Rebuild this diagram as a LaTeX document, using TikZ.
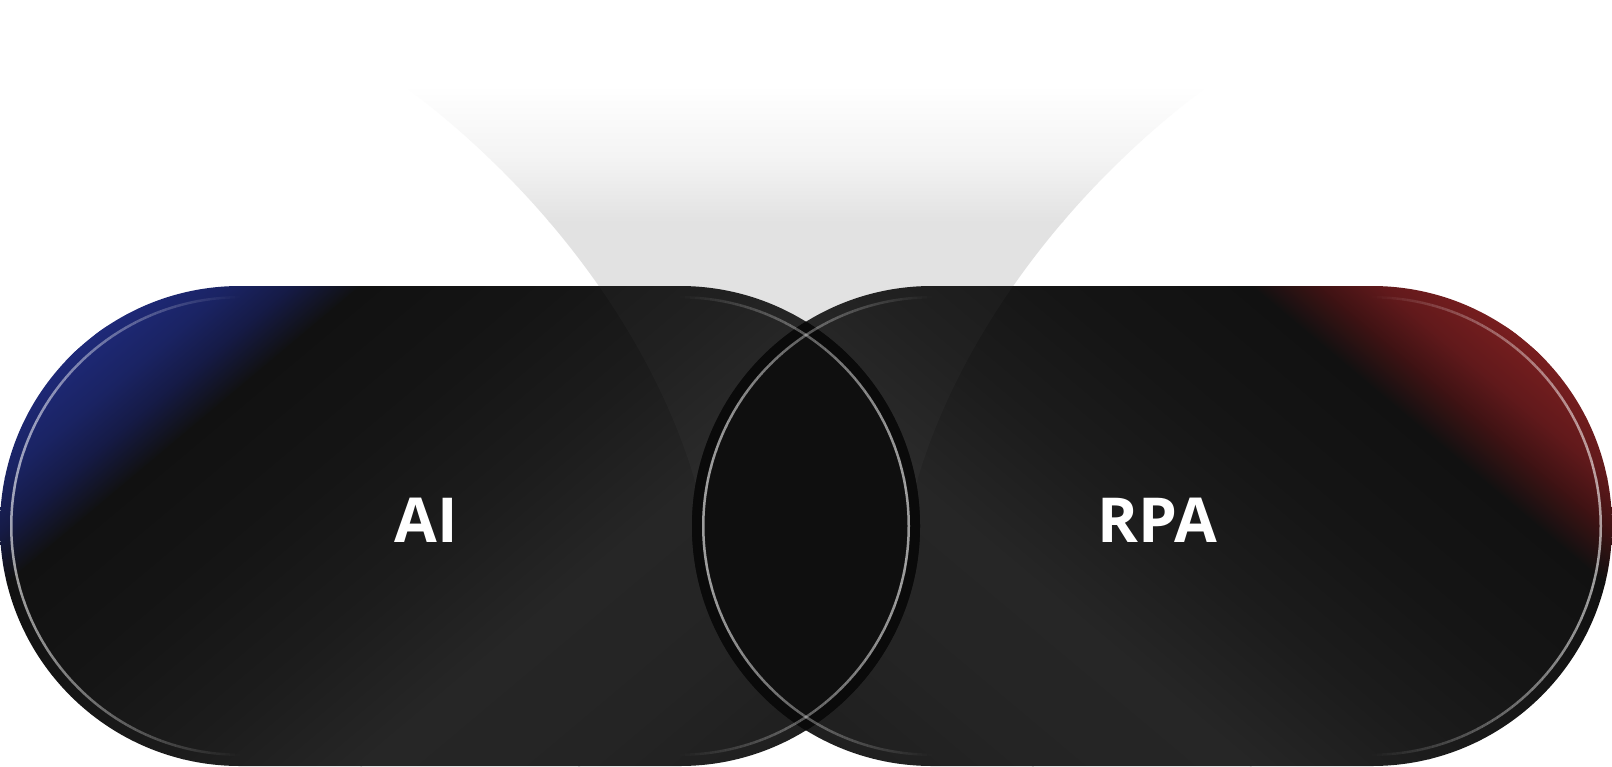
\documentclass[tikz,border=0pt]{standalone}
\usepackage{fontspec}
\setmainfont{Open Sans}
\definecolor{bl0}{HTML}{1E2978}
\definecolor{bl1}{HTML}{1A2362}
\definecolor{bl2}{HTML}{151A44}
\definecolor{rd0}{HTML}{781E1F}
\definecolor{rd1}{HTML}{60191B}
\definecolor{rd2}{HTML}{3D1213}
\definecolor{d11}{HTML}{111111}
\definecolor{d15}{HTML}{151515}
\definecolor{d1c}{HTML}{1C1C1C}
\definecolor{d26}{HTML}{262626}
\definecolor{d24}{HTML}{242424}
\definecolor{d1e}{HTML}{1E1E1E}
\definecolor{funnelgray}{HTML}{E2E2E2}
\definecolor{funnelmid}{HTML}{F3F3F3}
\definecolor{lensc}{HTML}{0F0F0F}
\definecolor{bandc}{HTML}{0A0A0A}
\newcommand{\stadium}[4]{(#1,#3-#4) -- (#2,#3-#4) arc[start angle=-90,end angle=90,radius=#4] -- (#1,#3+#4) arc[start angle=90,end angle=270,radius=#4] -- cycle}
% half rings of the thin inner line (left end / right end), centre x, centre y
\newcommand{\arcL}[2]{(#1,#2+230) arc[start angle=90,end angle=270,radius=230] -- (#1,#2-227.5) arc[start angle=270,end angle=90,radius=227.5] -- cycle}
\newcommand{\arcR}[2]{(#1,#2-230) arc[start angle=-90,end angle=90,radius=230] -- (#1,#2+227.5) arc[start angle=90,end angle=-90,radius=227.5] -- cycle}
% the thin line is bright at the round end and fades towards the straight sides
\newcommand{\leftglow}[1]{\foreach \i in {0,...,45}{\pgfmathsetmacro{\gxa}{#1-230+5*\i}\pgfmathsetmacro{\gop}{0.6*(227.5-5*\i)/230}\begin{scope}\clip (\gxa,280) rectangle (\gxa+5,770);\fill[white,fill opacity=\gop] \arcL{#1}{526};\end{scope}}}
\newcommand{\rightglow}[1]{\foreach \i in {0,...,45}{\pgfmathsetmacro{\gxa}{#1+5*\i}\pgfmathsetmacro{\gop}{0.6*(5*\i+2.5)/230}\begin{scope}\clip (\gxa,280) rectangle (\gxa+5,770);\fill[white,fill opacity=\gop] \arcR{#1}{526};\end{scope}}}
\newcommand{\funnelpath}{(352,20) -- (396,80) .. controls (560,200) and (665,360) .. (700,500) -- (912,500) .. controls (947,360) and (1052,200) .. (1216,80) -- (1260,20) -- cycle}
\newcommand{\gseg}[4]{\shade[left color=#3,right color=#4] (#1,-800) rectangle (#2+1,1800);}
\tikzset{
  pilltext/.style={anchor=base, text=white, inner sep=0pt, font=\fontsize{62}{70}\selectfont\bfseries}
}
\begin{document}
\begin{tikzpicture}[x=1pt,y=-1pt]
\useasboundingbox (0,0) rectangle (1612,766);
\fill[white] (0,0) rectangle (1612,766);
% funnel
\begin{scope}
  \clip \funnelpath;
  \fill[white] (0,0) rectangle (1612,86);
  \shade[top color=white, bottom color=funnelmid] (0,85) rectangle (1612,161);
  \shade[top color=funnelmid, bottom color=funnelgray] (0,160) rectangle (1612,222);
  \fill[funnelgray] (0,221) rectangle (1612,766);
\end{scope}
% left pill
\begin{scope}
  \clip \stadium{240}{680}{526}{240};
  \begin{scope}[transform canvas={rotate around={-50:(460,526)}}]
    \fill[bl0] (-1000,-800) rectangle (80,1800);
    \gseg{79}{130}{bl0}{bl1}
    \gseg{130}{170}{bl1}{bl2}
    \gseg{170}{212}{bl2}{d11}
    \gseg{212}{340}{d11}{d15}
    \gseg{340}{460}{d15}{d1c}
    \gseg{460}{580}{d1c}{d26}
    \gseg{580}{720}{d26}{d24}
    \gseg{720}{860}{d24}{d1e}
    \fill[d1e] (860,-800) rectangle (2200,1800);
  \end{scope}
\end{scope}
% right pill
\begin{scope}
  \clip \stadium{932}{1372}{526}{240};
  \begin{scope}[transform canvas={rotate around={-130:(1152,526)}}]
    \fill[rd0] (-400,-800) rectangle (772,1800);
    \gseg{771}{822}{rd0}{rd1}
    \gseg{822}{862}{rd1}{rd2}
    \gseg{862}{904}{rd2}{d11}
    \gseg{904}{1032}{d11}{d15}
    \gseg{1032}{1152}{d15}{d1c}
    \gseg{1152}{1272}{d1c}{d26}
    \gseg{1272}{1412}{d26}{d24}
    \gseg{1412}{1552}{d24}{d1e}
    \fill[d1e] (1552,-800) rectangle (2900,1800);
  \end{scope}
\end{scope}
% funnel seen through the pills
\begin{scope}
  \clip \funnelpath;
  \fill[white, opacity=0.025] \stadium{240}{680}{526}{240};
  \fill[white, opacity=0.025] \stadium{932}{1372}{526}{240};
\end{scope}
% lens
\begin{scope}
  \clip \stadium{240}{680}{526}{240};
  \clip \stadium{932}{1372}{526}{240};
  \fill[lensc] (600,250) rectangle (1000,780);
  \draw[line width=20pt, bandc] \stadium{932}{1372}{526}{240};
  \draw[line width=20pt, bandc] \stadium{240}{680}{526}{240};
\end{scope}
% inner lines
\leftglow{240}
\rightglow{680}
\leftglow{932}
\rightglow{1372}
% labels
\node[pilltext] (ai) at (426,542) {AI};
\node[pilltext] (rpa) at (1157,542) {RPA};
\end{tikzpicture}
\end{document}
